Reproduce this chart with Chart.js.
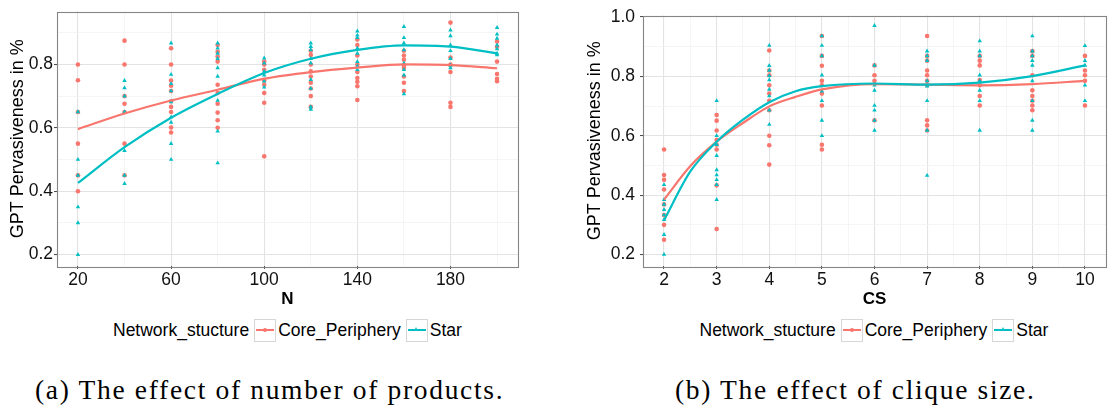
<!DOCTYPE html>
<html><head><meta charset="utf-8">
<script src="https://cdn.jsdelivr.net/npm/chart.js@4.4.0/dist/chart.umd.min.js"></script>
<style>
body{margin:0;width:1110px;height:410px;background:#fff;position:relative;overflow:hidden;font-family:"Liberation Sans",Arial,sans-serif;}
.cw{position:absolute;top:0;width:555px;height:310px;}
.legend{position:absolute;top:319px;height:22px;display:flex;align-items:center;font-size:17.5px;color:#000;white-space:nowrap;}
.key{width:20px;height:21px;border:1px solid #d6d6d6;position:relative;margin:0 2px 0 5px;background:#fff;}
.key .ln{position:absolute;left:1px;right:1px;top:9.5px;height:2px;}
.key .dot{position:absolute;left:8px;top:8px;width:4px;height:4px;border-radius:50%;}
.key .tri{position:absolute;left:7.5px;top:7.5px;width:0;height:0;border-left:2.5px solid transparent;border-right:2.5px solid transparent;border-bottom:4.5px solid #00BFC4;}
.caption{position:absolute;top:374px;line-height:32px;font-family:"Liberation Serif","DejaVu Serif",serif;font-size:27.5px;white-space:nowrap;color:#000;}
</style></head>
<body>
<div class="cw" style="left:0"><canvas id="c1"></canvas></div>
<div class="cw" style="left:555px"><canvas id="c2"></canvas></div>

<div class="legend" id="lg1"></div>
<div class="legend" id="lg2"></div>
<div class="caption" id="cap1">(a) The effect of number of products.</div>
<div class="caption" id="cap2">(b) The effect of clique size.</div>

<script>
// ---------- data: panel (a) ----------
const nValues = [20, 40, 60, 80, 100, 120, 140, 160, 180, 200];
const nMajorTicks = [20, 60, 100, 140, 180];
const nMinorTicks = [40, 80, 120, 160, 200];
const coreByN = [
  [0.8, 0.75, 0.65, 0.55, 0.45, 0.4],
  [0.875, 0.8, 0.7, 0.676, 0.65, 0.55, 0.45],
  [0.851, 0.8, 0.749, 0.733, 0.716, 0.684, 0.666, 0.65, 0.601, 0.585],
  [0.861, 0.84, 0.825, 0.809, 0.736, 0.71, 0.676, 0.648, 0.624, 0.6],
  [0.809, 0.8, 0.783, 0.749, 0.736, 0.71, 0.679, 0.51],
  [0.843, 0.83, 0.8, 0.778, 0.762, 0.742, 0.724, 0.7, 0.666],
  [0.879, 0.861, 0.828, 0.8, 0.776, 0.757, 0.745, 0.731, 0.688],
  [0.843, 0.828, 0.815, 0.797, 0.789, 0.762, 0.742, 0.716],
  [0.932, 0.822, 0.8, 0.776, 0.679, 0.666],
  [0.872, 0.856, 0.809, 0.77, 0.755, 0.747]
];
const starByN = [
  [0.65, 0.5, 0.45, 0.35, 0.3, 0.2],
  [0.749, 0.726, 0.7, 0.65, 0.528, 0.45, 0.424],
  [0.867, 0.768, 0.739, 0.716, 0.682, 0.634, 0.617, 0.55, 0.5],
  [0.867, 0.851, 0.835, 0.818, 0.789, 0.762, 0.686, 0.589, 0.489],
  [0.82, 0.804, 0.778, 0.766, 0.747, 0.728],
  [0.867, 0.856, 0.846, 0.818, 0.804, 0.752, 0.724, 0.666, 0.658],
  [0.905, 0.892, 0.884, 0.851, 0.835, 0.809, 0.794, 0.783],
  [0.919, 0.884, 0.867, 0.846, 0.804, 0.783, 0.766, 0.707],
  [0.908, 0.89, 0.861, 0.843, 0.818, 0.797, 0.789],
  [0.916, 0.895, 0.882, 0.861, 0.849, 0.835, 0.83]
];
const coreFitN = [0.596, 0.645, 0.686, 0.72, 0.755, 0.776, 0.79, 0.8, 0.798, 0.788];
const starFitN = [0.426, 0.539, 0.632, 0.707, 0.773, 0.818, 0.846, 0.86, 0.856, 0.835];

// ---------- data: panel (b) ----------
const csValues = [2, 3, 4, 5, 6, 7, 8, 9, 10];
const csMajorTicks = [2, 3, 4, 5, 6, 7, 8, 9, 10];
const csMinorTicks = [2.5, 3.5, 4.5, 5.5, 6.5, 7.5, 8.5, 9.5];
const coreByCS = [
  [0.554, 0.468, 0.452, 0.419, 0.369, 0.333, 0.3, 0.25],
  [0.67, 0.651, 0.618, 0.586, 0.57, 0.554, 0.433, 0.286],
  [0.887, 0.82, 0.804, 0.77, 0.742, 0.718, 0.686, 0.6, 0.568, 0.503],
  [0.936, 0.869, 0.836, 0.785, 0.77, 0.742, 0.702, 0.57, 0.554],
  [0.837, 0.804, 0.785, 0.652],
  [0.936, 0.869, 0.853, 0.82, 0.804, 0.785, 0.77, 0.652, 0.635, 0.618],
  [0.869, 0.853, 0.837, 0.788, 0.77, 0.734, 0.702],
  [0.885, 0.869, 0.804, 0.753, 0.734, 0.718, 0.702, 0.686],
  [0.869, 0.82, 0.804, 0.785, 0.702]
];
const starByCS = [
  [0.435, 0.385, 0.369, 0.351, 0.333, 0.317, 0.267, 0.2],
  [0.718, 0.6, 0.57, 0.533, 0.485, 0.468, 0.452, 0.435, 0.385],
  [0.904, 0.836, 0.82, 0.802, 0.788, 0.756, 0.734, 0.686, 0.638],
  [0.936, 0.904, 0.869, 0.804, 0.75, 0.718, 0.652, 0.6],
  [0.971, 0.837, 0.77, 0.753, 0.702, 0.686, 0.652, 0.618],
  [0.885, 0.869, 0.853, 0.785, 0.767, 0.718, 0.618, 0.466],
  [0.919, 0.885, 0.869, 0.804, 0.785, 0.753, 0.718, 0.618],
  [0.936, 0.885, 0.869, 0.853, 0.837, 0.785, 0.718, 0.652, 0.618],
  [0.903, 0.853, 0.837, 0.77, 0.718]
];
const csFitX = [2, 2.5, 3, 3.5, 4, 4.5, 5, 6, 7, 8, 9, 10];
const coreFitCS = [0.385, 0.498, 0.58, 0.643, 0.699, 0.731, 0.756, 0.774, 0.772, 0.77, 0.774, 0.785];
const starFitCS = [0.316, 0.48, 0.58, 0.654, 0.713, 0.75, 0.767, 0.776, 0.772, 0.779, 0.801, 0.837];

const seriesNames = ['Core_Periphery', 'Star'];
const legendTitle = 'Network_stucture';
const RED = '#F8766D', CYAN = '#00BFC4';

function pointsFrom(xs, groups) {
  const out = [];
  xs.forEach((x, i) => groups[i].forEach(y => out.push({x, y})));
  return out;
}
function lineFrom(xs, ys) { return xs.map((x, i) => ({x, y: ys[i]})); }

const panelBorder = {
  id: 'panelBorder',
  afterDraw(chart) {
    const {ctx, chartArea: a} = chart;
    ctx.save();
    ctx.strokeStyle = '#858585';
    ctx.lineWidth = 1.1;
    ctx.strokeRect(Math.round(a.left) + 0.5, Math.round(a.top) + 0.5, Math.round(a.right - a.left), Math.round(a.bottom - a.top));
    ctx.restore();
  }
};

function makeChart(id, cfg) {
  const setTicks = arr => scale => { scale.ticks = arr.map(v => ({value: v})); };
  return new Chart(document.getElementById(id), {
    type: 'scatter',
    data: {
      datasets: [
        {label: seriesNames[1] + ' fit', type: 'line', data: lineFrom(cfg.fitX, cfg.starFit), borderColor: CYAN, borderWidth: 2.2, pointRadius: 0, fill: false, cubicInterpolationMode: 'monotone', order: 0},
        {label: seriesNames[0] + ' fit', type: 'line', data: lineFrom(cfg.fitX, cfg.coreFit), borderColor: RED, borderWidth: 2.2, pointRadius: 0, fill: false, cubicInterpolationMode: 'monotone', order: 1},
        {label: seriesNames[1], data: pointsFrom(cfg.xs, cfg.star), pointStyle: 'triangle', pointRadius: 2.6, backgroundColor: CYAN, borderColor: CYAN, borderWidth: 0, order: 2},
        {label: seriesNames[0], data: pointsFrom(cfg.xs, cfg.core), pointStyle: 'circle', pointRadius: 2.3, backgroundColor: RED, borderColor: RED, borderWidth: 0, order: 3}
      ]
    },
    options: {
      responsive: true, maintainAspectRatio: false, animation: false,
      layout: {padding: cfg.padding},
      plugins: {legend: {display: false}, tooltip: {enabled: false}},
      scales: {
        x: {
          type: 'linear', min: cfg.xMin, max: cfg.xMax,
          afterBuildTicks: setTicks(cfg.xMajor),
          afterFit: s => { s.height = 44; },
          grid: {color: '#e3e3e3', lineWidth: 1.1, tickLength: 3, tickColor: '#444', tickWidth: 1},
          border: {display: false},
          ticks: {color: '#111', font: {family: 'Liberation Sans', size: 17.5}, padding: 1, maxRotation: 0, autoSkip: false, callback: v => String(v)},
          title: {display: true, text: cfg.xTitle, color: '#000', font: {family: 'Liberation Sans', size: 17, weight: 'bold'}, padding: {top: 0, bottom: 0}}
        },
        xMinor: {
          type: 'linear', axis: 'x', position: 'bottom', min: cfg.xMin, max: cfg.xMax,
          afterBuildTicks: setTicks(cfg.xMinor),
          afterFit: s => { s.height = 0; },
          grid: {color: '#f3f3f3', lineWidth: 0.8, drawTicks: false},
          border: {display: false}, ticks: {display: false}
        },
        y: {
          type: 'linear', min: cfg.yMin, max: cfg.yMax,
          afterBuildTicks: setTicks(cfg.yMajor),
          afterFit: s => { s.width = cfg.yWidth; },
          grid: {color: '#e3e3e3', lineWidth: 1.1, tickLength: 3, tickColor: '#444', tickWidth: 1},
          border: {display: false},
          ticks: {color: '#111', font: {family: 'Liberation Sans', size: 17.5}, padding: cfg.yTickPad, autoSkip: false, callback: v => v.toFixed(1)},
          title: {display: true, text: 'GPT Pervasiveness in %', color: '#000', font: {family: 'Liberation Sans', size: 18}, padding: {top: cfg.yTitlePad, bottom: 0}}
        },
        yMinor: {
          type: 'linear', axis: 'y', position: 'left', min: cfg.yMin, max: cfg.yMax,
          afterBuildTicks: setTicks(cfg.yMinor),
          afterFit: s => { s.width = 0; },
          grid: {color: '#f3f3f3', lineWidth: 0.8, drawTicks: false},
          border: {display: false}, ticks: {display: false}
        }
      }
    },
    plugins: [panelBorder]
  });
}

const yMajorTicks = [0.2, 0.4, 0.6, 0.8];
const yMinorTicks = [0.3, 0.5, 0.7, 0.9];

makeChart('c1', {
  xs: nValues, core: coreByN, star: starByN, fitX: nValues, coreFit: coreFitN, starFit: starFitN,
  xMin: 11, xMax: 209, yMin: 0.164, yMax: 0.967,
  xMajor: nMajorTicks, xMinor: nMinorTicks, yMajor: yMajorTicks, yMinor: yMinorTicks,
  xTitle: 'N', padding: {left: 0, right: 37, top: 9, bottom: 0}, yWidth: 57, yTickPad: 1, yTitlePad: 7
});
makeChart('c2', {
  xs: csValues, core: coreByCS, star: starByCS, fitX: csFitX, coreFit: coreFitCS, starFit: starFitCS,
  xMin: 1.6, xMax: 10.4, yMin: 0.1615, yMax: 1.005,
  xMajor: csMajorTicks, xMinor: csMinorTicks, yMajor: [0.2, 0.4, 0.6, 0.8, 1.0], yMinor: yMinorTicks,
  xTitle: 'CS', padding: {left: 0, right: 0, top: 4, bottom: 0}, yWidth: 88, yTickPad: 5, yTitlePad: 29
});

// ---------- legends ----------
function buildLegend(el, centerX) {
  const key = (color, tri) => `<span class="key"><span class="ln" style="background:${color}"></span>${tri ? '<span class="tri"></span>' : `<span class="dot" style="background:${color}"></span>`}</span>`;
  el.innerHTML = `<span>${legendTitle}</span>${key(RED, false)}<span>${seriesNames[0]}</span>${key(CYAN, true)}<span>${seriesNames[1]}</span>`;
  el.style.left = (centerX - el.offsetWidth / 2) + 'px';
}
buildLegend(document.getElementById('lg1'), 287.5);
buildLegend(document.getElementById('lg2'), 874);

// ---------- captions ----------
const cap1 = document.getElementById('cap1'), cap2 = document.getElementById('cap2');
const chars1 = cap1.textContent.length;
const extra = Math.max(0, (468 - cap1.offsetWidth) / (chars1 - 1));
cap1.style.letterSpacing = extra + 'px';
cap2.style.letterSpacing = extra + 'px';
cap1.style.left = '35px';
cap2.style.left = '675px';
</script>
</body></html>
